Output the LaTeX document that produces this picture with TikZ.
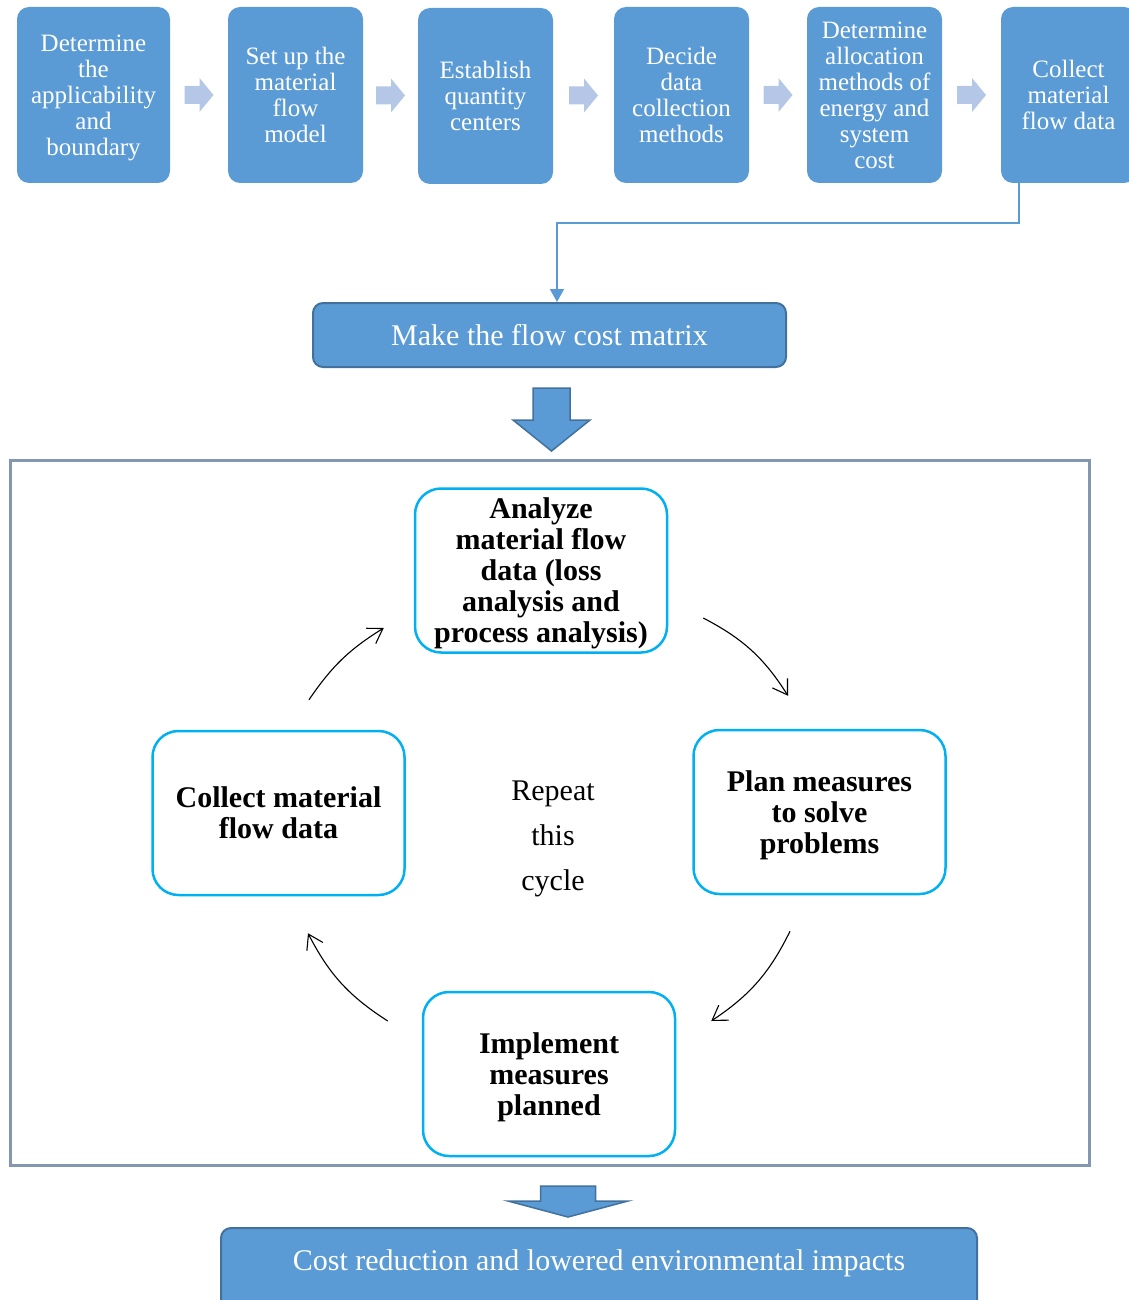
\documentclass[tikz,border=0pt]{standalone}
\usepackage{fontspec}
\setmainfont{Liberation Serif}
\usetikzlibrary{arrows.meta,calc}
\definecolor{boxblue}{HTML}{5B9BD5}
\definecolor{edgeblue}{HTML}{41719C}
\definecolor{paleblue}{HTML}{B4C7E7}
\definecolor{framegray}{HTML}{8497B0}
\definecolor{cyanedge}{HTML}{00B0F0}

% pale block arrow centred between two neighbouring step boxes
\newcommand\paleArrow[2]{%
  \fill[paleblue] ($(#1.east)!0.5!(#2.west)$) ++(-14.5,-9) -- ++(15,0) -- ++(0,-8)
    -- ++(14,17) -- ++(-14,17) -- ++(0,-8) -- ++(-15,0) -- cycle;}

\tikzset{
  pics/blockdown/.style args={#1/#2/#3/#4}{code={%
    \draw[bigarrow] (-#1,0) -- (#1,0) -- (#1,#2) -- (#3,#2) -- (0,#4)
      -- (-#3,#2) -- (-#1,#2) -- cycle;}},
}

\begin{document}
\begin{tikzpicture}[x=1pt,y=-1pt,
  stepbox/.style={fill=boxblue, draw=none, rounded corners=12pt,
    minimum width=135pt, minimum height=176pt, inner sep=0pt, text depth=0pt,
    text=white, align=center, font=\fontsize{25}{26}\selectfont},
  mainbar/.style={fill=boxblue, draw=edgeblue, line width=2pt,
    rounded corners=10pt, inner sep=0pt, text=white,
    font=\fontsize{30}{34}\selectfont},
  bigarrow/.style={fill=boxblue, draw=edgeblue, line width=1.5pt, line join=miter},
  link/.style={draw=boxblue, line width=1.8pt, -{Triangle[length=13pt,width=14pt]}},
  cyclebox/.style={draw=cyanedge, line width=2.5pt, fill=white,
    rounded corners=26pt, minimum width=252pt, minimum height=164pt,
    inner sep=0pt, text depth=0pt, align=center,
    font=\fontsize{30}{31}\selectfont\bfseries},
  turn/.style={draw=black, line width=1.1pt,
    -{Straight Barb[length=14pt,width=18pt]}},
]
\useasboundingbox (0,0) rectangle (1128,1300);

% ---- row of preparation steps ----
\node[stepbox, minimum width=153pt] (s1) at (93.5,95) {Determine\\the\\applicability\\and\\boundary};
\node[stepbox] (s2) at (295.5,95) {Set up the\\material\\flow\\model};
\node[stepbox] (s3) at (485.5,96) {Establish\\quantity\\centers};
\node[stepbox] (s4) at (681.5,95) {Decide\\data\\collection\\methods};
\node[stepbox] (s5) at (874.5,95) {Determine\\allocation\\methods of\\energy and\\system\\cost};
\node[stepbox] (s6) at (1068.5,95) {Collect\\material\\flow data};

\paleArrow{s1}{s2}
\paleArrow{s2}{s3}
\paleArrow{s3}{s4}
\paleArrow{s4}{s5}
\paleArrow{s5}{s6}

% ---- flow cost matrix ----
\node[mainbar, minimum width=473pt, minimum height=64pt] (make) at (549.5,335) {Make the flow cost matrix};

\draw[link] ([xshift=-49.5pt]s6.south) -- ++(0,40) -| ([xshift=7.5pt]make.north);

\path (make.south) ++(2,20) pic {blockdown=18.5/32/38.5/63};

% ---- improvement cycle ----
\node[draw=framegray, line width=3pt, minimum width=1079pt, minimum height=705pt,
  inner sep=0pt] (frame) at (549.5,812.5) {};

\node[cyclebox] (an) at (541,570.5) {Analyze\\material flow\\data (loss\\analysis and\\process analysis)};
\node[cyclebox] (co) at (278.5,813) {Collect material\\flow data};
\node[cyclebox] (pl) at (819.5,812) {Plan measures\\to solve\\problems};
\node[cyclebox] (im) at (549,1074) {Implement\\measures\\planned};

\node[font=\fontsize{30}{45}\selectfont, align=center, text depth=0pt] (rep) at (553,836) {Repeat\\this\\cycle};

\draw[turn] ([shift={(35,47.5)}]an.east) to[bend left=15] ([shift={(-31.5,-33)}]pl.north);
\draw[turn] ([shift={(-29.5,36)}]pl.south) to[bend left=15] ([shift={(35,-53)}]im.east);
\draw[turn] ([shift={(-34,-53)}]im.west) to[bend left=15] ([shift={(29.5,37)}]co.south);
\draw[turn] ([shift={(30.5,-30)}]co.north) to[bend left=12] ([shift={(-30,57.5)}]an.west);

% ---- outcome ----
\path (frame.south) ++(18.5,19.5) pic {blockdown=27.5/15/60/31};

\node[mainbar, minimum width=756pt, minimum height=90pt, anchor=north] (res) at (599,1227) {};
\node[anchor=base, text=white, font=\fontsize{30}{34}\selectfont] (restext)
  at ([yshift=-43pt]res.north) {Cost reduction and lowered environmental impacts};
\end{tikzpicture}
\end{document}
